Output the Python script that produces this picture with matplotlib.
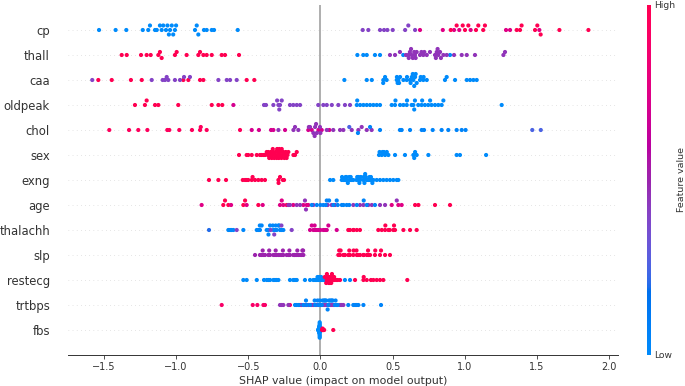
import numpy as np
import matplotlib
matplotlib.use("Agg")
import matplotlib.pyplot as plt
from matplotlib.colors import LinearSegmentedColormap, Normalize
from matplotlib.cm import ScalarMappable

# ---------------- data (top row first) ----------------
features = ["cp", "thall", "caa", "oldpeak", "chol", "sex", "exng", "age",
            "thalachh", "slp", "restecg", "trtbps", "fbs"]
xticks = [-1.5, -1.0, -0.5, 0.0, 0.5, 1.0, 1.5, 2.0]

cp_shap = [-1.534, -1.419, -1.345, -1.231, -1.193, -1.181, -1.146, -1.134, -1.112, -1.100,
           -1.089, -1.070, -1.060, -1.042, -1.030, -1.020, -1.008, -1.000, -1.050, -0.869,
           -0.857, -0.846, -0.807, -0.788, -0.753, -0.737, -0.573,
           0.293, 0.332, 0.413, 0.441, 0.464, 0.501, 0.587, 0.609, 0.656,
           0.690, 0.848, 0.926, 0.962, 1.041, 1.286, 1.314, 1.517,
           0.903, 0.944, 0.986, 1.002, 1.025, 1.078, 1.094, 1.128, 1.140, 1.360, 1.383,
           1.394, 1.487, 1.503, 1.526, 1.656, 1.857]
cp_feat = [0.0] * 27 + [0.4] * 9 + [0.75] * 8 + [1.0] * 17

thall_shap = [-1.377, -1.342, -1.243, -1.204, -1.176, -1.123, -1.112, -1.100, -1.008, -0.996,
              -0.927, -0.846, -0.834, -0.811, -0.788, -0.753, -0.684, -0.661, -0.564,
              0.256, 0.297, 0.321, 0.378, 0.413, 0.574, 0.898,
              0.482, 0.517, 0.551, 0.593, 0.609, 0.620, 0.632, 0.655, 0.667, 0.690,
              0.713, 0.737, 0.759, 0.794, 0.806, 0.817, 0.829, 0.852, 0.875, 0.926,
              0.979, 1.014, 1.071, 1.268, 1.279, 0.612, 0.628, 0.650, 0.700, 0.720,
              0.800, 0.812, 0.835, 0.640, 0.660]
thall_feat = [1.0] * 19 + [0.0] * 7 + [0.45] * 35

caa_shap = [-1.539, -1.446, -1.313, -1.238, -0.950, -0.915, -0.834, -0.811, -0.511, -0.458,
            -1.581, -1.169, -1.093, -1.077, -1.065, -1.054, -1.008, -0.973, -0.945, -0.904,
            -0.707, -0.649, -0.626, -0.580,
            0.166, 0.321, 0.356, 0.436, 0.448, 0.459, 0.529, 0.540, 0.552, 0.575, 0.598,
            0.621, 0.633, 0.644, 0.656, 0.667, 0.690, 0.713, 0.737, 0.863, 0.875, 0.933,
            1.014, 1.037, 1.060, 1.083, 0.530, 0.545, 0.535, 0.625, 0.640, 0.660, 0.695,
            0.715, 0.650, 0.435, 0.600]
caa_feat = [1.0] * 10 + [0.4] * 14 + [0.0] * 37

oldpeak_shap = [-1.285, -1.216, -1.204, -1.146, -1.123, -0.985, -0.753, -0.707, -0.680,
                -0.603,
                -0.391, -0.377, -0.326, -0.291, -0.280, -0.268, -0.211, -0.188, -0.164,
                -0.141, -0.015, 0.020, 0.044, 0.079, 0.124, 0.170, 0.205, -0.300, -0.285,
                0.252, 0.275, 0.298, 0.321, 0.344, 0.367, 0.390, 0.413, 0.494, 0.517, 0.552,
                0.575, 0.598, 0.632, 0.644, 0.655, 0.678, 0.701, 0.724, 0.747, 0.770, 0.794,
                0.817, 0.840, 0.852, 1.256, 0.255, 0.520, 0.600, 0.650, 0.705, 0.760]
oldpeak_feat = [1.0] * 9 + [0.7] + [0.4] * 19 + [0.0] * 32

chol_shap = [-1.463, -1.326, -1.262, -1.199, -1.061, -1.047, -0.978, -0.890, -0.834, -0.829,
             -0.788, -0.557,
             -0.476, -0.426, -0.342, -0.326, -0.245, -0.084, -0.060, -0.014, 0.009, 0.062,
             -0.291, -0.187, -0.176, -0.153, -0.072, -0.049, -0.037, -0.025, -0.003, 0.044,
             0.089, 0.136, 0.159, 0.217, 0.263, 0.286, 0.321, 0.355, -0.030, -0.040, 0.000,
             -0.080,
             0.344, 0.413, 0.551, 0.563, 0.621, 0.702, 0.718, 0.778, 0.840, 0.886, 0.944,
             0.979, 1.006, 0.260,
             1.468, 1.527, 0.200]
chol_feat = [0.95] * 12 + [0.7] * 10 + [0.45] * 22 + [0.05] * 14 + [0.25] * 3

sex_shap = [-0.564, -0.511, -0.500, -0.476, -0.441, -0.419, -0.407, -0.395, -0.384, -0.372,
            -0.365, -0.361, -0.355, -0.349, -0.343, -0.337, -0.332, -0.326, -0.320, -0.315,
            -0.310, -0.303, -0.300, -0.297, -0.291, -0.288, -0.285, -0.280, -0.275, -0.270,
            -0.268, -0.262, -0.257, -0.250, -0.245, -0.240, -0.234, -0.228, -0.222, -0.187,
            -0.176, -0.164, -0.330,
            0.406, 0.425, 0.448, 0.471, 0.517, 0.586, 0.644, 0.656, 0.667, 0.748, 0.944,
            0.967, 1.148, 0.410, 0.430, 0.440, 0.460, 0.650]
sex_feat = [1.0] * 43 + [0.0] * 18

exng_shap = [-0.772, -0.707, -0.654, -0.538, -0.522, -0.500, -0.476, -0.453, -0.430, -0.407,
             -0.384, -0.291, -0.280, -0.252, -0.290, -0.260, -0.510, -0.470,
             0.067, 0.089, 0.148, 0.170, 0.182, 0.205, 0.217, 0.228, 0.263, 0.275, 0.298,
             0.321, 0.332, 0.344, 0.355, 0.367, 0.390, 0.413, 0.436, 0.459, 0.482, 0.505,
             0.529, 0.540, 0.150, 0.160, 0.175, 0.180, 0.190, 0.200, 0.210, 0.250, 0.255,
             0.265, 0.270, 0.280, 0.300, 0.305, 0.310, 0.315, 0.340, 0.350, 0.360]
exng_feat = [1.0] * 18 + [0.0] * 43

age_shap = [-0.673, -0.661, -0.638, -0.534, -0.522, -0.430, -0.234, 0.656, 0.679, 0.794, 0.898,
            -0.823, -0.619, -0.511, -0.400, -0.280, -0.268, -0.257, -0.188, -0.118, -0.095,
            -0.084, 0.494, 0.540, 0.563,
            -0.222, -0.211, -0.164, -0.141, -0.107, -0.049, 0.078, 0.101, 0.228, 0.274,
            0.298, 0.332, 0.356, 0.413, 0.448, 0.529, -0.100, 0.050,
            -0.025, 0.037, 0.044, 0.090, 0.113, 0.148, 0.182, 0.252, 0.321, 0.378, -0.060,
            0.000, 0.060, 0.120, 0.160, 0.020, 0.200, 0.300]
age_feat = [1.0] * 11 + [0.75] * 14 + [0.45] * 18 + [0.05] * 18

thalachh_shap = [-0.772, -0.638, -0.626, -0.615, -0.603, -0.534, -0.441, -0.430, -0.419,
                 -0.407, -0.372, -0.361, -0.349, -0.326, -0.315, -0.303, -0.291, -0.280,
                 -0.268, -0.257, -0.330, -0.310, -0.285, -0.420, -0.360,
                 -0.580, -0.345, -0.320, -0.270, -0.199,
                 -0.072, -0.060, -0.049, -0.037, -0.025, -0.014, 0.020, 0.032, 0.044, 0.055,
                 0.113, -0.040, 0.000,
                 0.193, 0.205, 0.228, 0.252, 0.274, 0.401, 0.425, 0.448, 0.471, 0.505, 0.517,
                 0.575, 0.621, 0.667, 0.230, 0.450, 0.480, 0.510]
thalachh_feat = [0.2] + [0.03] * 24 + [0.4] * 5 + [0.7] * 13 + [1.0] * 18

slp_shap = [-0.453, -0.419, -0.407, -0.396, -0.384, -0.361, -0.349, -0.326, -0.315, -0.303,
            -0.280, -0.268, -0.257, -0.234, -0.222, -0.211, -0.188, -0.176, -0.164, -0.153,
            -0.141, -0.118, -0.400, -0.355, -0.310, -0.290, -0.260, -0.215, -0.180, -0.160,
            -0.130, -0.125, -0.120,
            0.124, 0.136, 0.159, 0.170, 0.193, 0.205, 0.228, 0.252, 0.275, 0.298, 0.321,
            0.332, 0.344, 0.378, 0.413, 0.448, 0.482, 0.140, 0.165, 0.200, 0.230, 0.260,
            0.300, 0.330, 0.380, 0.420, 0.130, 0.250]
slp_feat = [0.5] * 33 + [1.0] * 28

restecg_shap = [-0.534, -0.511, -0.441, -0.391, -0.372, -0.361, -0.349, -0.326, -0.315, -0.303,
                -0.291, -0.211, -0.188, -0.176, -0.164, -0.107, -0.072, -0.049, -0.037,
                -0.025, -0.014, 0.000, 0.009, 0.020, 0.032, 0.170, 0.205, -0.020, -0.010,
                0.005,
                0.044, 0.055, 0.067, 0.078, 0.090, 0.113, 0.136, 0.240, 0.298, 0.321, 0.367,
                0.390, 0.413, 0.436, 0.602, 0.050, 0.060, 0.070, 0.085, 0.040, 0.030, 0.100,
                0.120, 0.300, 0.350, 0.065, 0.075, 0.095, 0.045, 0.058, 0.080]
restecg_feat = [0.0] * 30 + [1.0] * 31

trtbps_shap = [-0.684, -0.469, -0.437, -0.395, -0.384, -0.211,
               -0.280, -0.268, -0.257, -0.222, -0.141, -0.107, -0.084, -0.049, -0.025, 0.020,
               0.044, 0.067, 0.090, 0.136, 0.159, -0.130, 0.030, 0.080, 0.148, -0.060,
               -0.176, -0.164, -0.118, -0.095, -0.072, -0.037, -0.014, 0.000, 0.032, 0.055,
               0.078, 0.113, 0.193, 0.228, 0.252, 0.240, 0.263, 0.298, 0.420, -0.150, -0.100,
               -0.040, 0.010, 0.060, 0.070, 0.100, 0.120, -0.020, 0.040, 0.050, -0.005,
               0.015, 0.025, 0.085, 0.105]
trtbps_feat = [0.9] * 6 + [0.45] * 20 + [0.05] * 35

fbs_shap = [-0.012, -0.011, -0.011, -0.010, -0.010, -0.010, -0.009, -0.009, -0.009, -0.009,
            -0.008, -0.008, -0.008, -0.008, -0.008, -0.007, -0.007, -0.007, -0.007, -0.007,
            -0.007, -0.006, -0.006, -0.006, -0.006, -0.006, -0.006, -0.006, -0.005, -0.005,
            -0.005, -0.005, -0.005, -0.005, -0.004, -0.004, -0.004, -0.004, -0.003, -0.003,
            -0.003, -0.002, -0.002, -0.001, 0.000, -0.014, -0.016, 0.002, -0.013, -0.015,
            0.012, 0.014, 0.016, 0.018, 0.020, 0.022, 0.014, 0.017, 0.026, 0.016, 0.089]
fbs_feat = [0.0] * 50 + [1.0] * 11

shap_values = [cp_shap, thall_shap, caa_shap, oldpeak_shap, chol_shap, sex_shap, exng_shap,
               age_shap, thalachh_shap, slp_shap, restecg_shap, trtbps_shap, fbs_shap]
feature_values = [cp_feat, thall_feat, caa_feat, oldpeak_feat, chol_feat, sex_feat, exng_feat,
                  age_feat, thalachh_feat, slp_feat, restecg_feat, trtbps_feat, fbs_feat]


# ---------------- SHAP red_blue colormap (LCH interpolation) ----------------
def lch2rgb(l, c, h):
    a = c * np.cos(h)
    b = c * np.sin(h)
    fy = (l + 16.0) / 116.0
    fx = a / 500.0 + fy
    fz = fy - b / 200.0

    def finv(t):
        return np.where(t > 0.2068966, t ** 3, (t - 16.0 / 116.0) / 7.787)
    X = 0.95047 * finv(fx)
    Y = 1.00000 * finv(fy)
    Z = 1.08883 * finv(fz)
    r = 3.2404542 * X - 1.5371385 * Y - 0.4985314 * Z
    g = -0.9692660 * X + 1.8760108 * Y + 0.0415560 * Z
    bb = 0.0556434 * X - 0.2040259 * Y + 1.0572252 * Z
    out = []
    for v in (r, g, bb):
        v = np.where(v > 0.0031308, 1.055 * np.power(np.clip(v, 0, None), 1 / 2.4) - 0.055, 12.92 * v)
        out.append(float(np.clip(v, 0, 1)))
    return out


blue_lch = [54., 70., 4.6588]
l_mid = 40.
red_lch = [54., 90., 0.35470565 + 2 * np.pi]
nsteps = 100
l_vals = list(np.linspace(blue_lch[0], l_mid, nsteps // 2)) + list(np.linspace(l_mid, red_lch[0], nsteps // 2))
c_vals = np.linspace(blue_lch[1], red_lch[1], nsteps)
h_vals = np.linspace(blue_lch[2], red_lch[2], nsteps)
cols = [lch2rgb(l, c, h) for l, c, h in zip(l_vals, c_vals, h_vals)]
red_blue = LinearSegmentedColormap.from_list("red_blue", cols)

# ---------------- figure ----------------
W, H = 685, 386
fig = plt.figure(figsize=(W / 100, H / 100), dpi=100)
ax = fig.add_axes([68 / W, 31 / H, 550 / W, 350 / H])

n = len(features)
row_height = 0.4
for idx, (name, sv, fv) in enumerate(zip(features, shap_values, feature_values)):
    pos = n - 1 - idx
    ax.axhline(y=pos, color="#cccccc", lw=0.5, dashes=(1, 5), zorder=-1)
    shaps = np.asarray(sv, dtype=float)
    vals = np.asarray(fv, dtype=float)
    N = len(shaps)
    nbins = 100
    quant = np.round(nbins * (shaps - shaps.min()) / (shaps.max() - shaps.min() + 1e-8))
    inds = np.argsort(quant, kind="stable")
    layer = 0
    last_bin = -1
    ys = np.zeros(N)
    for ind in inds:
        if quant[ind] != last_bin:
            layer = 0
        ys[ind] = np.ceil(layer / 2) * ((layer % 2) * 2 - 1)
        layer += 1
        last_bin = quant[ind]
    ys *= 0.9 * (row_height / np.max(ys + 1))
    ax.scatter(shaps, pos + ys, c=vals, cmap=red_blue, vmin=0, vmax=1, s=9,
               linewidths=0, alpha=1, zorder=3)

ax.axvline(x=0, color="#999999", lw=1.1, zorder=-1)

axis_color = "#333333"
ax.set_xlim(-1.749, 2.062)
ax.set_ylim(-1, n)
ax.set_yticks(range(n))
ax.set_yticklabels(features[::-1], fontsize=8.4)
ax.set_xticks(xticks)
ax.set_xticklabels([f"{t:.1f}".replace("-", "\u2212") for t in xticks], fontsize=7.0)
ax.tick_params(axis="y", length=0, pad=13, colors=axis_color, labelcolor=axis_color)
ax.tick_params(axis="x", length=2.6, width=0.6, colors=axis_color, labelcolor=axis_color, pad=2.5)
ax.set_xlabel("SHAP value (impact on model output)", fontsize=7.9, color=axis_color, labelpad=3)
for s in ("top", "right", "left"):
    ax.spines[s].set_visible(False)
ax.spines["bottom"].set_color(axis_color)
ax.spines["bottom"].set_linewidth(0.7)

# colorbar
cax = fig.add_axes([647 / W, 31 / H, 4 / W, 350 / H])
sm = ScalarMappable(norm=Normalize(0, 1), cmap=red_blue)
cb = fig.colorbar(sm, cax=cax, ticks=[0, 1])
cb.set_ticklabels(["Low", "High"])
cb.ax.tick_params(labelsize=6.6, length=0, pad=2.5, labelcolor=axis_color)
cb.set_label("Feature value", size=6.8, labelpad=1, color=axis_color)
cb.outline.set_visible(False)

fig.savefig("out.png", dpi=100)
